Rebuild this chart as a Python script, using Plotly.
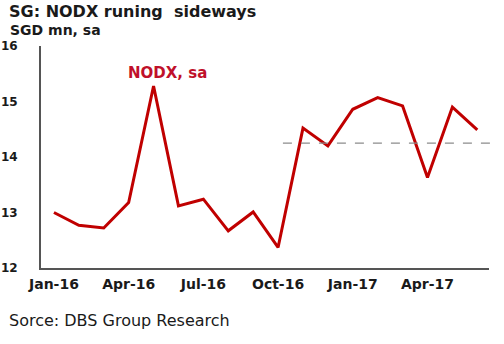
import plotly.graph_objects as go

months = ["Jan-16", "Feb-16", "Mar-16", "Apr-16", "May-16", "Jun-16", "Jul-16", "Aug-16",
          "Sep-16", "Oct-16", "Nov-16", "Dec-16", "Jan-17", "Feb-17", "Mar-17", "Apr-17",
          "May-17", "Jun-17"]
nodx = [13.0, 12.77, 12.72, 13.18, 15.28, 13.12, 13.24, 12.67, 13.01, 12.37,
        14.52, 14.2, 14.86, 15.07, 14.92, 13.63, 14.9, 14.49]
tick_labels = ["Jan-16", "Apr-16", "Jul-16", "Oct-16", "Jan-17", "Apr-17"]
y_ticks = [12, 13, 14, 15, 16]
ref_level = 14.25

FONT = "DejaVu Sans"
TXT = "#1a1a1a"
x_idx = list(range(len(months)))
tickvals = [months.index(t) for t in tick_labels]

fig = go.Figure()
fig.add_trace(go.Scatter(x=x_idx, y=nodx, mode="lines",
                         line=dict(color="#C00000", width=3), hoverinfo="skip",
                         showlegend=False))

fig.add_shape(type="line", xref="paper", yref="y", x0=0.54, x1=1.02,
              y0=ref_level, y1=ref_level,
              line=dict(color="#8c8c8c", width=1.3, dash="dash"))

fig.add_annotation(x=4.54, y=15.51, xref="x", yref="y", text="<b>NODX, sa</b>",
                   showarrow=False, font=dict(family=FONT, size=15, color="#C0102A"))

fig.add_annotation(x=0, y=1, xref="paper", yref="paper", xanchor="left", yanchor="middle",
                   text="<b>SG: NODX runing  sideways</b>", showarrow=False,
                   xshift=-41 + 7, yshift=46 - 11,
                   font=dict(family=FONT, size=16, color=TXT))
fig.add_annotation(x=0, y=1, xref="paper", yref="paper", xanchor="left", yanchor="middle",
                   text="<b>SGD mn, sa</b>", showarrow=False,
                   xshift=-41 + 8, yshift=46 - 30,
                   font=dict(family=FONT, size=14, color=TXT))
fig.add_annotation(x=0, y=0, xref="paper", yref="paper", xanchor="left", yanchor="middle",
                   text="Sorce: DBS Group Research", showarrow=False,
                   xshift=-41 + 7, yshift=268 - 320,
                   font=dict(family=FONT, size=16, color=TXT))

fig.update_xaxes(range=[-0.52, 17.47], tickmode="array", tickvals=tickvals,
                 ticktext=[f"<b>{t}</b>" for t in tick_labels], showgrid=False,
                 zeroline=False, showline=True, linecolor="#555555", linewidth=2,
                 automargin=False, ticks="outside", ticklen=2,
                 tickcolor="rgba(0,0,0,0)",
                 tickfont=dict(family=FONT, size=14, color=TXT))
fig.update_yaxes(range=[12, 16], tickmode="array", tickvals=y_ticks,
                 ticktext=[f"<b>{v}</b>" for v in y_ticks], showgrid=False,
                 zeroline=False, showline=True, linecolor="#555555", linewidth=2,
                 automargin=False, ticks="outside", ticklen=19,
                 tickcolor="rgba(0,0,0,0)",
                 tickfont=dict(family=FONT, size=12, color=TXT))

fig.update_layout(width=504, height=344, margin=dict(l=41, r=15, t=46, b=76),
                  plot_bgcolor="white", paper_bgcolor="white",
                  font=dict(family=FONT))

fig.write_html("out.html")
